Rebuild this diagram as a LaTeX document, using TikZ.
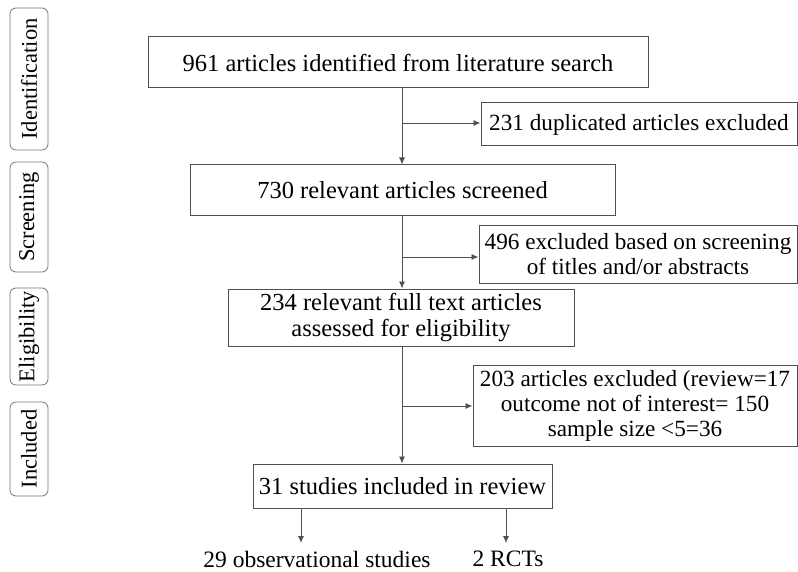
\documentclass[tikz,border=0pt]{standalone}
\usepackage{fontspec}
\setmainfont{Liberation Serif}
\usetikzlibrary{arrows.meta,positioning}
\definecolor{boxgray}{RGB}{80,80,80}
\definecolor{stagegray}{RGB}{120,120,120}

\begin{document}
\begin{tikzpicture}[x=1pt, y=-1pt,
    flowbox/.style={rectangle, draw=boxgray, line width=1pt, align=center, inner sep=0pt,
      font=\fontsize{24.5}{25.5}\selectfont},
    sidebox/.style={flowbox, font=\fontsize{23.2}{25}\selectfont},
    stagebox/.style={rectangle, rounded corners=6pt, draw=stagegray, line width=0.8pt, rotate=90,
      inner sep=0pt, minimum height=38pt, font=\fontsize{22.5}{24}\selectfont},
    outtext/.style={inner sep=0pt, font=\fontsize{23.5}{25}\selectfont},
    flowarrow/.style={-{Latex[length=7pt,width=6pt]}, line width=0.9pt, draw=boxgray}
  ]
    \useasboundingbox (0,0) rectangle (798,572);

    % stages on the left
    \node[stagebox, minimum width=142pt] (identification) at (29,79)    {Identification};
    \node[stagebox, minimum width=110pt] (screening)      at (29,217)   {Screening};
    \node[stagebox, minimum width=97pt]  (eligibility)    at (29,336.5) {Eligibility};
    \node[stagebox, minimum width=94pt]  (included)       at (29,449)   {Included};

    % main flow
    \node[flowbox, minimum width=500pt, minimum height=51pt] (search)   at (398,62.5)  {961 articles identified from literature search};
    \node[sidebox, minimum width=316pt, minimum height=43pt] (dupl)     at (639,124.5) {231 duplicated articles excluded};
    \node[flowbox, minimum width=425pt, minimum height=51pt] (screened) at (402.5,190.5) {730 relevant articles screened};
    \node[sidebox, minimum width=318pt, minimum height=57pt] (exclone)  at (638,254.5) {496 excluded based on screening\\of titles and/or abstracts};
    \node[flowbox, minimum width=346pt, minimum height=57pt] (fulltext) at (401,317.5) {234 relevant full text articles\\assessed for eligibility};
    \node[sidebox, minimum width=324pt, minimum height=81pt] (excltwo)  at (635,405.5) {203 articles excluded (review=17\\outcome not of interest= 150\\sample size <5=36};
    \node[flowbox, minimum width=299pt, minimum height=44pt] (studies)  at (402.5,486) {31 studies included in review};
    \node[outtext] (observ) at (317,559) {29 observational studies};
    \node[outtext] (rcts)   at (508,559) {2 RCTs};

    % branch points
    \coordinate (splitone)   at (402,123);
    \coordinate (splittwo)   at (402,257);
    \coordinate (splitthree) at (402,406);
    \coordinate (obsin) at (301,543);
    \coordinate (rctin) at (506,543);

    \draw[flowarrow] (search.south -| splitone) -- (screened.north -| splitone);
    \draw[flowarrow] (splitone) -- (splitone -| dupl.west);
    \draw[flowarrow] (screened.south -| splittwo) -- (fulltext.north -| splittwo);
    \draw[flowarrow] (splittwo) -- (splittwo -| exclone.west);
    \draw[flowarrow] (fulltext.south -| splitthree) -- (studies.north -| splitthree);
    \draw[flowarrow] (splitthree) -- (splitthree -| excltwo.west);
    \draw[flowarrow] (studies.south -| obsin) -- (obsin);
    \draw[flowarrow] (studies.south -| rctin) -- (rctin);
\end{tikzpicture}
\end{document}
